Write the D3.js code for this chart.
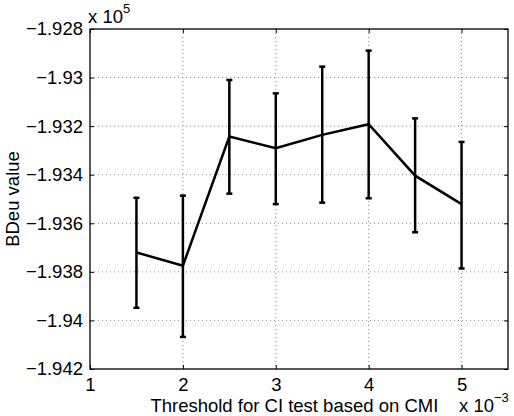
<!DOCTYPE html>
<html>
<head>
<meta charset="utf-8">
<script src="https://cdn.jsdelivr.net/npm/d3@7"></script>
<style>
  body { margin: 0; background: #fff; }
  svg text { font-family: "Liberation Sans", Arial, Helvetica, sans-serif; fill: #000; }
</style>
</head>
<body>
<div id="chart"></div>
<script>
// thresholds (x 10^-3)
const thresholds = [1.5, 2, 2.5, 3, 3.5, 4, 4.5, 5];
// BDeu values (x 10^5)
const means = [-1.9372, -1.93775, -1.93243, -1.93291, -1.93236, -1.93192, -1.93404, -1.93521];
const upper = [-1.93495, -1.93486, -1.9301, -1.93065, -1.92955, -1.92889, -1.93168, -1.93265];
const lower = [-1.93948, -1.94068, -1.93478, -1.93521, -1.93515, -1.93497, -1.93637, -1.93786];
const xTicks = [1, 2, 3, 4, 5];
const yTicks = [-1.928, -1.93, -1.932, -1.934, -1.936, -1.938, -1.94, -1.942];

const width = 514, height = 416;
const margin = { top: 29, right: 6, bottom: 47, left: 90 };
const w = width - margin.left - margin.right;
const h = height - margin.top - margin.bottom;
const fontSize = "18.5px";

const svg = d3.select("#chart").append("svg")
  .attr("width", width)
  .attr("height", height);

const g = svg.append("g")
  .attr("transform", `translate(${margin.left},${margin.top})`);

const x = d3.scaleLinear().domain([1, 5.5]).range([0, w]);
const y = d3.scaleLinear().domain([-1.942, -1.928]).range([h, 0]);

const fmt = d => (d < 0 ? "\u2212" : "") + String(Math.abs(d));

// dotted grid
g.selectAll("line.gx").data(xTicks.slice(1)).join("line")
  .attr("class", "gx")
  .attr("x1", d => x(d)).attr("x2", d => x(d))
  .attr("y1", 0).attr("y2", h)
  .attr("stroke", "#8a8a8a").attr("stroke-width", 1)
  .attr("stroke-dasharray", "1,3");
g.selectAll("line.gy").data(yTicks.slice(1, -1)).join("line")
  .attr("class", "gy")
  .attr("x1", 0).attr("x2", w)
  .attr("y1", d => y(d)).attr("y2", d => y(d))
  .attr("stroke", "#8a8a8a").attr("stroke-width", 1)
  .attr("stroke-dasharray", "1,3");

// axes with inward ticks
const tickLen = 4;
const xAxis = g.append("g").attr("transform", `translate(0,${h})`)
  .call(d3.axisBottom(x).tickValues(xTicks).tickSizeInner(-tickLen).tickSizeOuter(0).tickPadding(9).tickFormat(fmt));
const yAxis = g.append("g")
  .call(d3.axisLeft(y).tickValues(yTicks).tickSizeInner(-tickLen).tickSizeOuter(0).tickPadding(7).tickFormat(fmt));
g.append("g")
  .call(d3.axisTop(x).tickValues(xTicks).tickSizeInner(-tickLen).tickSizeOuter(0).tickFormat(""));
g.append("g").attr("transform", `translate(${w},0)`)
  .call(d3.axisRight(y).tickValues(yTicks).tickSizeInner(-tickLen).tickSizeOuter(0).tickFormat(""));

g.selectAll(".domain").remove();
g.selectAll(".tick line").attr("stroke", "#000");
g.selectAll(".tick text").style("font-size", fontSize);
xAxis.selectAll(".tick text").attr("dy", "0.71em");

// box
g.append("rect")
  .attr("x", 0).attr("y", 0).attr("width", w).attr("height", h)
  .attr("fill", "none").attr("stroke", "#000").attr("stroke-width", 1.3);

// error bars
const cap = 3;
const bars = g.selectAll("g.err").data(thresholds).join("g").attr("class", "err");
bars.append("line")
  .attr("x1", d => x(d)).attr("x2", d => x(d))
  .attr("y1", (d, i) => y(upper[i])).attr("y2", (d, i) => y(lower[i]))
  .attr("stroke", "#000").attr("stroke-width", 2.5);
bars.append("line")
  .attr("x1", d => x(d) - cap).attr("x2", d => x(d) + cap)
  .attr("y1", (d, i) => y(upper[i])).attr("y2", (d, i) => y(upper[i]))
  .attr("stroke", "#000").attr("stroke-width", 2.5);
bars.append("line")
  .attr("x1", d => x(d) - cap).attr("x2", d => x(d) + cap)
  .attr("y1", (d, i) => y(lower[i])).attr("y2", (d, i) => y(lower[i]))
  .attr("stroke", "#000").attr("stroke-width", 2.5);

// mean line
g.append("path")
  .datum(thresholds)
  .attr("fill", "none")
  .attr("stroke", "#000")
  .attr("stroke-width", 2.5)
  .attr("stroke-linejoin", "miter")
  .attr("d", d3.line().x(d => x(d)).y((d, i) => y(means[i])));

// exponent labels
const expTop = svg.append("text").attr("x", margin.left - 2).attr("y", 23).style("font-size", fontSize);
expTop.append("tspan").text("x 10");
expTop.append("tspan").attr("dy", -10).style("font-size", "13px").text("5");

const expBottom = svg.append("text").attr("x", 459).attr("y", 412).style("font-size", fontSize);
expBottom.append("tspan").text("x 10");
expBottom.append("tspan").attr("dy", -10).style("font-size", "13px").text("\u22123");

// axis labels
svg.append("text")
  .attr("x", margin.left + x(3.2))
  .attr("y", 412)
  .attr("text-anchor", "middle")
  .style("font-size", fontSize)
  .text("Threshold for CI test based on CMI");

svg.append("text")
  .attr("transform", `translate(19,${margin.top + h / 2}) rotate(-90)`)
  .attr("text-anchor", "middle")
  .style("font-size", fontSize)
  .text("BDeu value");
</script>
</body>
</html>
